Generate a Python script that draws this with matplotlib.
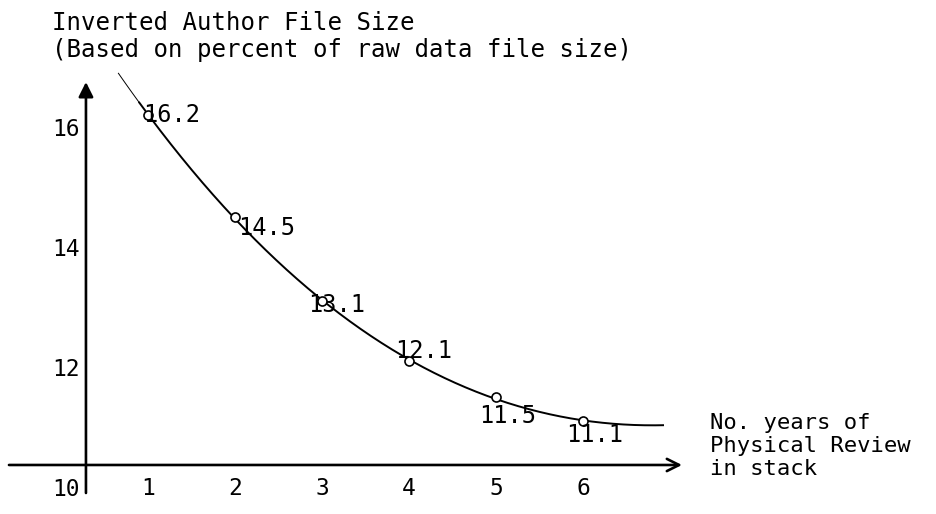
import numpy as np
import matplotlib.pyplot as plt

# years of Physical Review in the stack vs. inverted author file size (%)
years = [1, 2, 3, 4, 5, 6]
file_size = [16.2, 14.5, 13.1, 12.1, 11.5, 11.1]
value_labels = ['16.2', '14.5', '13.1', '12.1', '11.5', '11.1']
# label offsets from each point, in pixels
label_dx = [-5, 3, -14, -14, -17, -17]
label_dy = [0, -11, -4, 10, -19, -14]

y_ticks = [10, 12, 14, 16]
x_ticks = [1, 2, 3, 4, 5, 6]

plt.rcParams['font.family'] = ['DejaVu Sans Mono']

fig = plt.figure(figsize=(9.37, 5.14), dpi=100)
ax = fig.add_axes([0, 0, 1, 1])
ax.set_xlim(-0.701, 10.069)
ax.set_ylim(9.55, 18.117)

x_axis_at = 10.367  # height where the horizontal axis crosses
y_axis_at = 0.287

# spines only place the tick labels; the axis lines are drawn as arrows
for s in ['top', 'right']:
    ax.spines[s].set_visible(False)
ax.spines['left'].set_position(('data', y_axis_at))
ax.spines['bottom'].set_position(('data', x_axis_at))
ax.spines['left'].set_color('none')
ax.spines['bottom'].set_color('none')

ax.annotate('', xy=(y_axis_at, 16.75), xytext=(y_axis_at, 9.9),
            arrowprops=dict(arrowstyle='-|>', lw=1.9, color='black',
                            mutation_scale=22, shrinkA=0, shrinkB=0))
ax.annotate('', xy=(7.138, x_axis_at), xytext=(-0.598, x_axis_at),
            arrowprops=dict(arrowstyle='->', lw=1.9, color='black',
                            mutation_scale=22, shrinkA=0, shrinkB=0))

ax.set_yticks(y_ticks)
ax.set_yticklabels([str(t) for t in y_ticks])
ax.set_xticks(x_ticks)
ax.set_xticklabels([str(t) for t in x_ticks])
ax.tick_params(axis='y', length=0, pad=4.5, labelsize=16.5)
ax.tick_params(axis='x', length=0, pad=9, labelsize=16.5)

# smooth trend through the points
coef = np.polyfit(years, file_size, 3)
xs = np.linspace(0.9, 6.92, 200)
ax.plot(xs, np.polyval(coef, xs), color='black', lw=1.4)
xs_ext = np.linspace(0.66, 0.9, 20)
ax.plot(xs_ext, np.polyval(coef, xs_ext), color='black', lw=0.7)

ax.plot(years, file_size, 'o', ms=6.5, mfc='white', mec='black', mew=1.2)

for x, y, lab, dx, dy in zip(years, file_size, value_labels, label_dx, label_dy):
    ax.annotate(lab, (x, y), xytext=(dx, dy), textcoords='offset pixels',
                ha='left', va='center', fontsize=17)

fig.text(52 / 937, 1 - 23 / 514, 'Inverted Author File Size',
         ha='left', va='center', fontsize=17.3)
fig.text(52 / 937, 1 - 50 / 514, '(Based on percent of raw data file size)',
         ha='left', va='center', fontsize=17.3)
fig.text(710 / 937, 1 - 446 / 514, 'No. years of\nPhysical Review\nin stack',
         ha='left', va='center', fontsize=16, linespacing=1.2)

fig.savefig('out.png', dpi=100)
